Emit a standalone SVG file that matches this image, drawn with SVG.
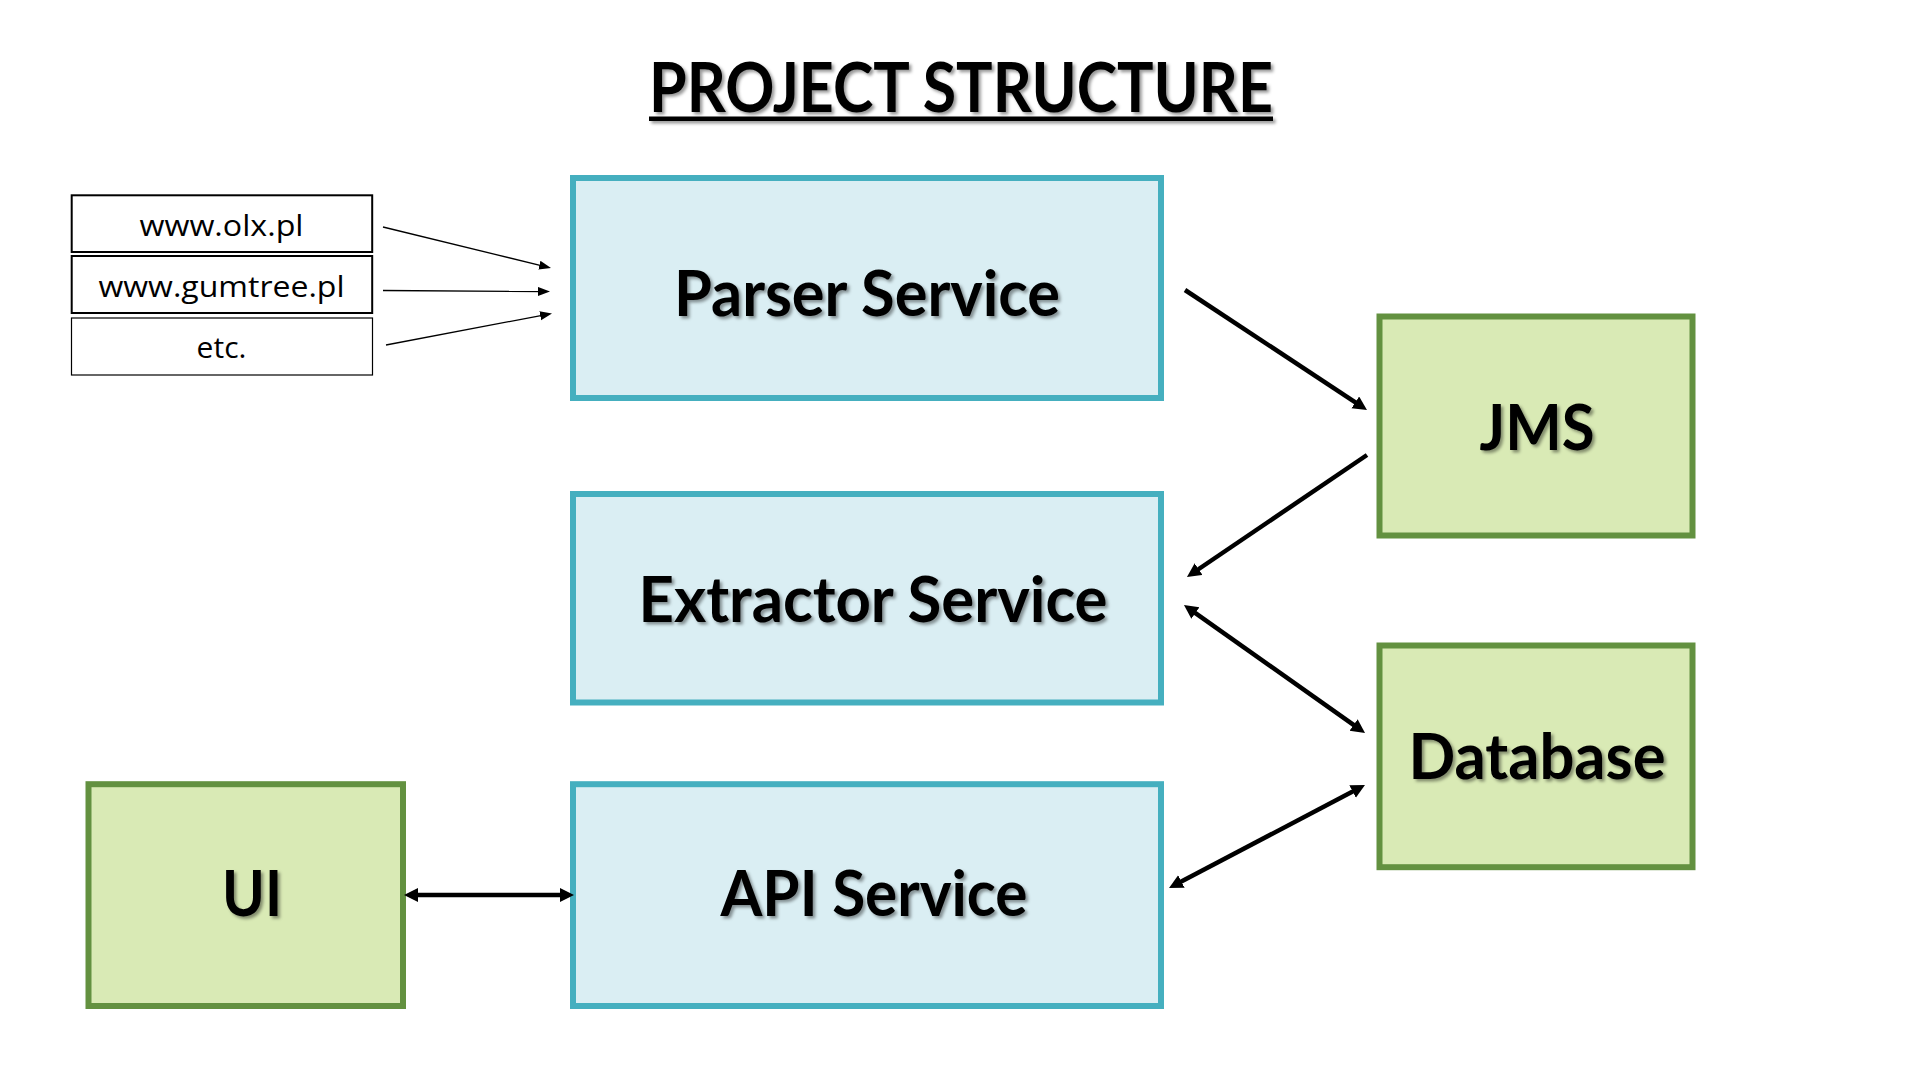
<svg xmlns="http://www.w3.org/2000/svg" width="1920" height="1080" viewBox="0 0 1920 1080">
<style>
.blue{fill:#DAEEF3;stroke:#45AFBF;stroke-width:6}
.green{fill:#D9EAB5;stroke:#639140;stroke-width:6}
.src{fill:#FFFFFF;stroke:#000000;stroke-width:2}
.lbl{font-family:Lato,"Open Sans","Liberation Sans",sans-serif;font-weight:bold;font-size:64px;fill:#000;text-anchor:middle}
.srct{font-family:"Open Sans","Noto Sans","Liberation Sans",sans-serif;font-size:30px;fill:#000;text-anchor:middle}
.thick{stroke:#000;stroke-width:4.5;fill:none}
.thin{stroke:#000;stroke-width:1.3;fill:none}
</style>
<defs>
<filter id="sh" x="-10%" y="-20%" width="120%" height="150%">
<feDropShadow dx="2.5" dy="2.5" stdDeviation="1.5" flood-color="#000" flood-opacity="0.4"/>
</filter>
<marker id="ah" markerUnits="userSpaceOnUse" markerWidth="16" markerHeight="16" viewBox="0 0 16 16" refX="6" refY="7" orient="auto-start-reverse">
<path d="M0,0 L14,7 L0,14 z" fill="#000"/>
</marker>
<marker id="at" markerUnits="userSpaceOnUse" markerWidth="14" markerHeight="12" viewBox="0 0 14 12" refX="6" refY="4.5" orient="auto">
<path d="M0,0 L12,4.5 L0,9 z" fill="#000"/>
</marker>
</defs>
<rect width="1920" height="1080" fill="#FFFFFF"/>

<g id="title" filter="url(#sh)">
<text x="961" y="112" font-family="Lato,'Open Sans','Liberation Sans',sans-serif" font-weight="bold" font-size="68" text-anchor="middle" textLength="624" lengthAdjust="spacingAndGlyphs">PROJECT STRUCTURE</text>
<rect x="649" y="116.5" width="624" height="4.5" fill="#000"/>
</g>

<g id="src-olx">
<rect class="src" x="71.7" y="195.3" width="300.5" height="56.7"/>
<text class="srct" x="221.5" y="236" textLength="164" lengthAdjust="spacingAndGlyphs">www.olx.pl</text>
</g>
<g id="src-gumtree">
<rect class="src" x="71.7" y="256" width="300.5" height="57"/>
<text class="srct" x="221.5" y="297" textLength="246" lengthAdjust="spacingAndGlyphs">www.gumtree.pl</text>
</g>
<g id="src-etc">
<rect class="src" x="71.5" y="318" width="301" height="57" style="stroke-width:1.2"/>
<text class="srct" x="221.5" y="358">etc.</text>
</g>

<g id="parser">
<rect class="blue" x="573" y="178" width="588" height="220"/>
<text class="lbl" x="867" y="316" textLength="386" lengthAdjust="spacingAndGlyphs" filter="url(#sh)">Parser Service</text>
</g>
<g id="extractor">
<rect class="blue" x="573" y="494" width="588" height="208.5"/>
<text class="lbl" x="873" y="622" textLength="469" lengthAdjust="spacingAndGlyphs" filter="url(#sh)">Extractor Service</text>
</g>
<g id="api">
<rect class="blue" x="573" y="784.2" width="588" height="221.8"/>
<text class="lbl" x="874" y="916" textLength="307" lengthAdjust="spacingAndGlyphs" filter="url(#sh)">API Service</text>
</g>
<g id="ui">
<rect class="green" x="88.5" y="784.2" width="314.5" height="221.8"/>
<text class="lbl" x="252" y="916" textLength="60" lengthAdjust="spacingAndGlyphs" filter="url(#sh)">UI</text>
</g>
<g id="jms">
<rect class="green" x="1379.5" y="316.5" width="313" height="219"/>
<text class="lbl" x="1537" y="450" textLength="115" lengthAdjust="spacingAndGlyphs" filter="url(#sh)">JMS</text>
</g>
<g id="database">
<rect class="green" x="1379.5" y="645.5" width="313" height="221.7"/>
<text class="lbl" x="1537" y="779" textLength="257" lengthAdjust="spacingAndGlyphs" filter="url(#sh)">Database</text>
</g>

<g id="connectors">
<line class="thin" x1="383" y1="227" x2="545.2" y2="266.6" marker-end="url(#at)"/>
<line class="thin" x1="383" y1="290.5" x2="544" y2="291.5" marker-end="url(#at)"/>
<line class="thin" x1="386" y1="345" x2="546.1" y2="314.6" marker-end="url(#at)"/>
<line class="thick" x1="1185" y1="290" x2="1360.3" y2="405.6" marker-end="url(#ah)"/>
<line class="thick" x1="1367" y1="455" x2="1193.6" y2="572.5" marker-end="url(#ah)"/>
<line class="thick" x1="1190.5" y1="609.6" x2="1358.5" y2="728.4" marker-start="url(#ah)" marker-end="url(#ah)"/>
<line class="thick" x1="1357.9" y1="788.7" x2="1176.1" y2="884.3" marker-start="url(#ah)" marker-end="url(#ah)"/>
<line class="thick" x1="412" y1="895" x2="566" y2="895" marker-start="url(#ah)" marker-end="url(#ah)"/>
</g>
</svg>
